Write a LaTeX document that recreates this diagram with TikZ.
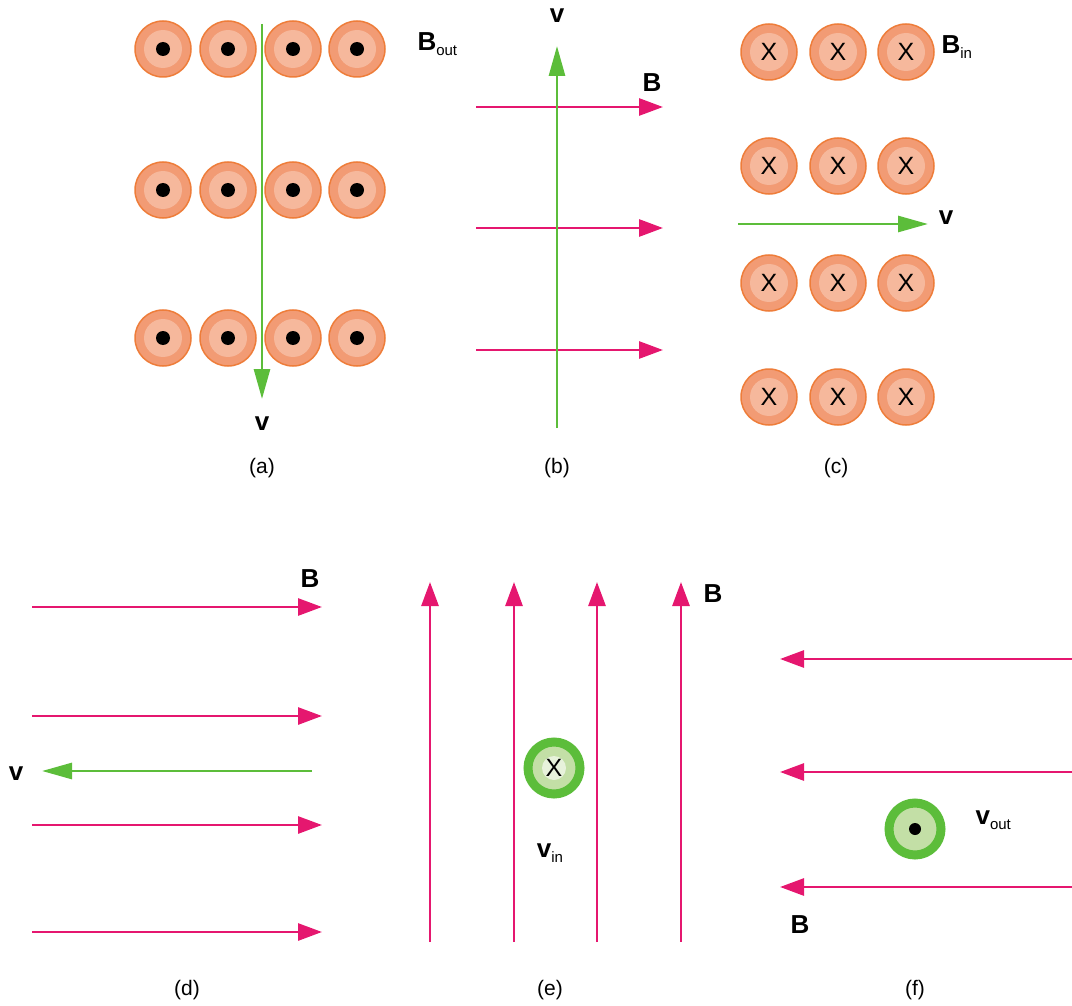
\documentclass[tikz,border=0pt]{standalone}
\usepackage{fontspec}
\setmainfont{Liberation Sans}
\usetikzlibrary{arrows.meta}
\definecolor{borange}{HTML}{EE7D3A}
\definecolor{morange}{HTML}{F29B74}
\definecolor{lorange}{HTML}{F6B89C}
\definecolor{fpink}{HTML}{E5176F}
\definecolor{fgreen}{HTML}{5CBD3A}
\definecolor{lgreen}{HTML}{C3DFA6}
\newcommand{\lab}[2]{{\fontsize{26}{26}\selectfont\bfseries #1}\raisebox{-5pt}{\fontsize{15}{15}\selectfont #2}}
\tikzset{
  wire/.style={circle, minimum size=56pt, inner sep=0pt, draw=borange, line width=1.5pt, fill=morange,
    path picture={\fill[lorange] (path picture bounding box.center) circle (19pt);}},
  wout/.style={wire, path picture={\fill[lorange] (path picture bounding box.center) circle (19pt);
    \fill[black] (path picture bounding box.center) circle (7pt);}},
  win/.style={wire, font=\fontsize{25}{25}\selectfont},
  field/.style={draw=fpink, line width=2.8pt, -{Triangle[length=24pt,width=17pt]}},
  speed/.style={draw=fgreen, line width=2.8pt, -{Triangle[length=30pt,width=16pt]}},
  vcirc/.style={circle, minimum size=52pt, inner sep=0pt, draw=fgreen, line width=9pt, fill=lgreen},
  caption/.style={font=\fontsize{21}{21}\selectfont}
}
\begin{document}
\begin{tikzpicture}[x=1pt,y=-1pt]
\useasboundingbox (0,0) rectangle (1072,1006);

% (a)
\node[wout] (a11) at (163,49) {};
\node[wout] (a12) at (228,49) {};
\node[wout] (a13) at (293,49) {};
\node[wout] (a14) at (357,49) {};
\node[wout] (a21) at (163,190) {};
\node[wout] (a22) at (228,190) {};
\node[wout] (a23) at (293,190) {};
\node[wout] (a24) at (357,190) {};
\node[wout] (a31) at (163,338) {};
\node[wout] (a32) at (228,338) {};
\node[wout] (a33) at (293,338) {};
\node[wout] (a34) at (357,338) {};
\coordinate (av0) at (262,24);
\coordinate (av1) at (262,399);
\draw[speed] (av0) -- (av1);
\node (av) at (262,426) {\lab{v}{}};
\node[anchor=west] (aB) at (414,44) {\lab{B}{out}};
\node[caption] (acap) at (262,468) {(a)};

% (b)
\coordinate (bv0) at (557,428);
\coordinate (bv1) at (557,46);
\coordinate (bb10) at (476,107);
\coordinate (bb11) at (663,107);
\coordinate (bb20) at (476,228);
\coordinate (bb21) at (663,228);
\coordinate (bb30) at (476,350);
\coordinate (bb31) at (663,350);
\draw[field] (bb10) -- (bb11);
\draw[field] (bb20) -- (bb21);
\draw[field] (bb30) -- (bb31);
\draw[speed] (bv0) -- (bv1);
\node (bv) at (557,18) {\lab{v}{}};
\node (bB) at (652,85) {\lab{B}{}};
\node[caption] (bcap) at (557,468) {(b)};

% (c)
\node[win] (c11) at (769,52) {X};
\node[win] (c12) at (838,52) {X};
\node[win] (c13) at (906,52) {X};
\node[win] (c21) at (769,166) {X};
\node[win] (c22) at (838,166) {X};
\node[win] (c23) at (906,166) {X};
\node[win] (c31) at (769,283) {X};
\node[win] (c32) at (838,283) {X};
\node[win] (c33) at (906,283) {X};
\node[win] (c41) at (769,397) {X};
\node[win] (c42) at (838,397) {X};
\node[win] (c43) at (906,397) {X};
\coordinate (cv0) at (738,224);
\coordinate (cv1) at (928,224);
\draw[speed] (cv0) -- (cv1);
\node (cv) at (946,220) {\lab{v}{}};
\node[anchor=west] (cB) at (938,47) {\lab{B}{in}};
\node[caption] (ccap) at (836,468) {(c)};

% (d)
\coordinate (db10) at (32,607);
\coordinate (db11) at (322,607);
\coordinate (db20) at (32,716);
\coordinate (db21) at (322,716);
\coordinate (db30) at (32,825);
\coordinate (db31) at (322,825);
\coordinate (db40) at (32,932);
\coordinate (db41) at (322,932);
\draw[field] (db10) -- (db11);
\draw[field] (db20) -- (db21);
\draw[field] (db30) -- (db31);
\draw[field] (db40) -- (db41);
\coordinate (dv0) at (312,771);
\coordinate (dv1) at (42,771);
\draw[speed] (dv0) -- (dv1);
\node (dv) at (16,776) {\lab{v}{}};
\node (dB) at (310,581) {\lab{B}{}};
\node[caption] (dcap) at (187,990) {(d)};

% (e)
\coordinate (eb10) at (430,942);
\coordinate (eb11) at (430,582);
\coordinate (eb20) at (514,942);
\coordinate (eb21) at (514,582);
\coordinate (eb30) at (597,942);
\coordinate (eb31) at (597,582);
\coordinate (eb40) at (681,942);
\coordinate (eb41) at (681,582);
\draw[field] (eb10) -- (eb11);
\draw[field] (eb20) -- (eb21);
\draw[field] (eb30) -- (eb31);
\draw[field] (eb40) -- (eb41);
\node[vcirc, path picture={\fill[white!60!lgreen] (path picture bounding box.center) circle (12pt);}, font=\fontsize{25}{25}\selectfont] (ev) at (554,768) {X};
\node (evl) at (550,853) {\lab{v}{in}};
\node (eB) at (713,596) {\lab{B}{}};
\node[caption] (ecap) at (550,990) {(e)};

% (f)
\coordinate (fb10) at (1072,659);
\coordinate (fb11) at (780,659);
\coordinate (fb20) at (1072,772);
\coordinate (fb21) at (780,772);
\coordinate (fb30) at (1072,887);
\coordinate (fb31) at (780,887);
\draw[field] (fb10) -- (fb11);
\draw[field] (fb20) -- (fb21);
\draw[field] (fb30) -- (fb31);
\node[vcirc, path picture={\fill[black] (path picture bounding box.center) circle (6pt);}] (fv) at (915,829) {};
\node[anchor=west] (fvl) at (972,820) {\lab{v}{out}};
\node (fB) at (800,927) {\lab{B}{}};
\node[caption] (fcap) at (915,990) {(f)};
\end{tikzpicture}
\end{document}
